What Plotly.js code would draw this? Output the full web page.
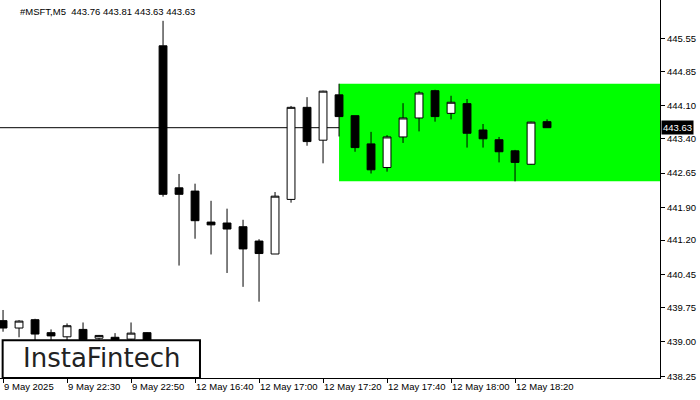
<!DOCTYPE html>
<html>
<head>
<meta charset="utf-8">
<script src="https://cdn.plot.ly/plotly-3.0.1.min.js"></script>
<style>html,body{margin:0;padding:0;background:#fff;}#chart{width:700px;height:400px;}</style>
</head>
<body>
<div id="chart"></div>
<script>
// Bar index (5-minute bars, session gap collapsed)
const barIndex = [0,1,2,3,4,5,6,7,8,9,10,11,12,13,14,15,16,17,18,19,20,21,22,23,24,25,26,27,28,29,30,31,32,33,34];
const openP  = [439.46,439.30,439.48,439.20,439.11,439.27,439.08,439.10,439.06,439.20,
                445.40,442.33,442.26,441.59,441.57,441.49,441.18,440.90,442.08,444.07,
                443.36,444.34,443.89,443.28,442.77,443.43,443.84,444.43,443.94,444.15,
                443.58,443.37,443.13,442.84,443.76];
const highP  = [439.69,439.47,439.50,439.27,439.40,439.42,439.15,439.19,439.42,439.21,
                445.94,442.63,442.42,442.05,441.88,441.64,441.22,442.24,444.10,444.29,
                444.43,444.58,443.89,443.54,443.47,444.16,444.42,444.45,444.32,444.25,
                443.71,443.43,443.15,443.76,443.81];
const lowP   = [439.22,439.10,439.00,439.00,439.00,438.98,439.05,439.02,439.02,439.00,
                442.14,440.65,441.23,440.89,440.49,440.19,439.87,440.90,442.01,443.24,
                442.86,443.44,443.11,442.64,442.68,443.30,443.55,443.76,443.81,443.20,
                443.20,442.88,442.47,442.83,443.63];
const closeP = [439.30,439.45,439.17,439.13,439.35,439.05,439.14,439.05,439.19,439.03,
                442.19,442.19,441.62,441.53,441.44,441.01,440.91,442.15,444.07,443.33,
                444.42,443.87,443.20,442.72,443.43,443.84,444.38,443.87,444.18,443.51,
                443.39,443.11,442.88,443.75,443.63];

const xTickIdx = [0,4,8,12,16,20,24,28,32];
const xTickText = ["9 May 2025","9 May 22:30","9 May 22:50","12 May 16:40","12 May 17:00","12 May 17:20","12 May 17:40","12 May 18:00","12 May 18:20"];
const yTickVals = [445.55,444.85,444.10,443.40,442.65,441.90,441.20,440.45,439.75,439.00,438.25];
const yTickText = ["445.55","444.85","444.10","443.40","442.65","441.90","441.20","440.45","439.75","439.00","438.25"];

const symbolName = "#MSFT,M5";
const lastPrice = 443.63;
const zoneStartIdx = 21;
const zoneTop = 444.58;
const zoneBottom = 442.47;

const xMin = -0.19, xMax = 41.06;
const yMin = 438.22, yMax = 446.39;

const lastBar = barIndex.length - 1;
const headerText = symbolName + "  " + openP[lastBar].toFixed(2) + " " + highP[lastBar].toFixed(2) + " " +
                   lowP[lastBar].toFixed(2) + " " + closeP[lastBar].toFixed(2);

const trace = {
  type: 'candlestick',
  x: barIndex, open: openP, high: highP, low: lowP, close: closeP,
  increasing: {line: {color: '#000', width: 1}, fillcolor: '#ffffff'},
  decreasing: {line: {color: '#000', width: 1}, fillcolor: '#000000'},
  whiskerwidth: 0,
  hoverinfo: 'skip',
  showlegend: false
};

const fontBase = {family: '"Liberation Sans", Arial, sans-serif', size: 9.5, color: '#000'};

const layout = {
  width: 700, height: 400,
  margin: {l: 0, r: 40, t: 0, b: 22, pad: 0},
  paper_bgcolor: '#fff', plot_bgcolor: '#fff',
  showlegend: false,
  font: fontBase,
  xaxis: {
    type: 'linear', range: [xMin, xMax], fixedrange: true,
    rangeslider: {visible: false},
    showgrid: false, zeroline: false,
    showline: true, linecolor: '#000', linewidth: 1,
    ticks: 'outside', ticklen: 4, tickcolor: '#000', tickwidth: 1,
    tickvals: xTickIdx, ticktext: xTickText,
    tickangle: 0,
    ticklabelposition: 'outside right',
    tickfont: fontBase
  },
  yaxis: {
    side: 'right', range: [yMin, yMax], fixedrange: true,
    showgrid: false, zeroline: false,
    showline: true, linecolor: '#000', linewidth: 1,
    ticks: 'outside', ticklen: 4, tickcolor: '#000', tickwidth: 1,
    tickvals: yTickVals, ticktext: yTickText,
    tickfont: fontBase
  },
  shapes: [
    {type: 'rect', xref: 'x', yref: 'y', x0: zoneStartIdx, x1: xMax, y0: zoneBottom, y1: zoneTop,
     fillcolor: '#00ff00', line: {width: 0}, layer: 'below'},
    {type: 'line', xref: 'paper', yref: 'y', x0: 0, x1: 1, y0: lastPrice, y1: lastPrice,
     line: {color: '#000', width: 1}, layer: 'below'},
    {type: 'rect', xref: 'paper', yref: 'paper', x0: 0.004, x1: 0.303, y0: 0, y1: 0.1,
     fillcolor: '#fff', line: {color: '#000', width: 2}, layer: 'above'}
  ],
  annotations: [
    {xref: 'paper', yref: 'paper', x: 0.027, y: 0.969, xanchor: 'left', yanchor: 'middle',
     text: headerText, showarrow: false, font: fontBase},
    {xref: 'paper', yref: 'y', x: 1.002, y: lastPrice, xanchor: 'left', yanchor: 'middle',
     text: lastPrice.toFixed(2), showarrow: false, bgcolor: '#000', borderpad: 1,
     font: {family: fontBase.family, size: 9.5, color: '#fff'}},
    {xref: 'paper', yref: 'paper', x: 0.155, y: 0.052, xanchor: 'center', yanchor: 'middle',
     text: 'InstaFintech', showarrow: false,
     font: {family: '"DejaVu Sans", sans-serif', size: 26, color: '#222'}}
  ]
};

Plotly.newPlot('chart', [trace], layout, {displayModeBar: false, staticPlot: true});
</script>
</body>
</html>
